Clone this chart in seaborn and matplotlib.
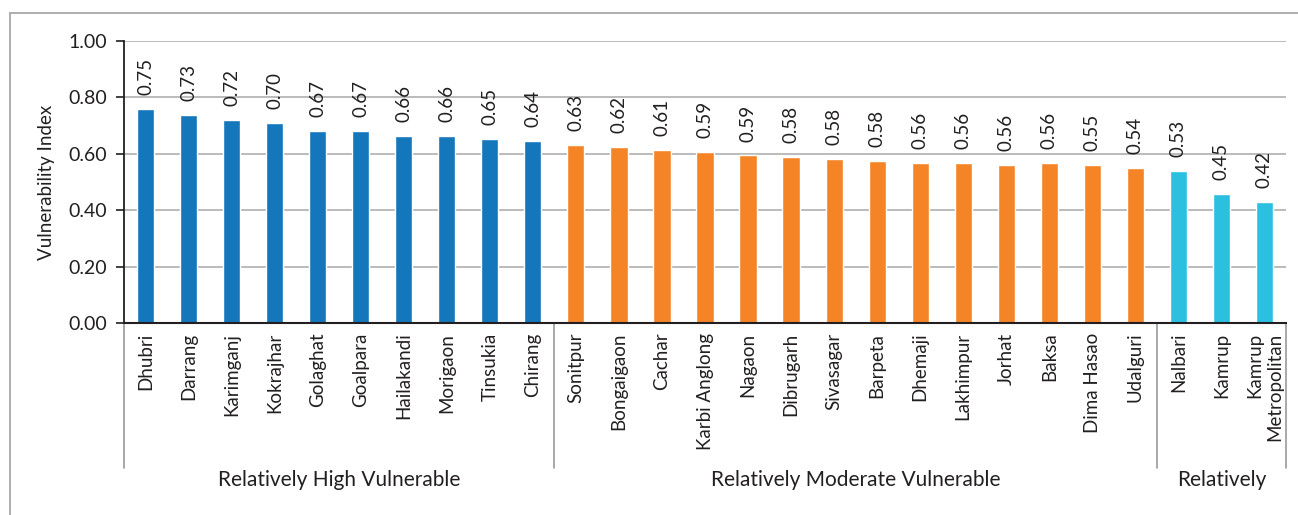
import matplotlib
matplotlib.use("Agg")
import matplotlib.pyplot as plt
import matplotlib.transforms as mtransforms
from matplotlib.lines import Line2D
import seaborn as sns
import pandas as pd

# ---------------- data ----------------
districts = ["Dhubri", "Darrang", "Karimganj", "Kokrajhar", "Golaghat", "Goalpara",
             "Hailakandi", "Morigaon", "Tinsukia", "Chirang",
             "Sonitpur", "Bongaigaon", "Cachar", "Karbi Anglong", "Nagaon", "Dibrugarh",
             "Sivasagar", "Barpeta", "Dhemaji", "Lakhimpur", "Jorhat", "Baksa",
             "Dima Hasao", "Udalguri",
             "Nalbari", "Kamrup", "Kamrup\nMetropolitan"]
values = [0.759, 0.738, 0.720, 0.709, 0.681, 0.681, 0.663, 0.663, 0.652, 0.645,
          0.632, 0.624, 0.614, 0.606, 0.594, 0.589, 0.581, 0.575, 0.568, 0.568,
          0.559, 0.568, 0.561, 0.550,
          0.539, 0.457, 0.429]
value_labels = ["0.75", "0.73", "0.72", "0.70", "0.67", "0.67", "0.66", "0.66", "0.65", "0.64",
                "0.63", "0.62", "0.61", "0.59", "0.59", "0.58", "0.58", "0.58", "0.56", "0.56",
                "0.56", "0.56", "0.55", "0.54",
                "0.53", "0.45", "0.42"]
groups = ["Relatively High Vulnerable"] * 10 + \
         ["Relatively Moderate Vulnerable"] * 14 + \
         ["Relatively"] * 3
group_names = ["Relatively High Vulnerable", "Relatively Moderate Vulnerable", "Relatively"]
group_colors = ["#1476bb", "#f58426", "#2cc0e0"]
y_ticks = [0.0, 0.2, 0.4, 0.6, 0.8, 1.0]

df = pd.DataFrame({"district": districts, "value": values, "group": groups})

# ---------------- style ----------------
sns.set_theme(style="white")
plt.rcParams["font.family"] = ["Lato", "DejaVu Sans"]

W, H = 1298, 515
fig = plt.figure(figsize=(W / 100, H / 100), dpi=100)
ax = fig.add_axes([124 / W, 1 - 323 / H, (1286 - 124) / W, (323 - 41) / H])

sns.barplot(data=df, x="district", y="value", hue="group",
            palette=dict(zip(group_names, group_colors)),
            hue_order=group_names, order=districts,
            dodge=False, width=0.4, legend=False, ax=ax, saturation=1)

ax.set_xlim(-0.5, len(districts) - 0.5)
ax.set_ylim(0, 1.0)
ax.set_yticks(y_ticks)
ax.set_yticklabels([f"{t:.2f}" for t in y_ticks], fontsize=14, color="#231f20")
ax.yaxis.grid(True, color="#b5b5b5", linewidth=1.3)
ax.set_axisbelow(True)
ax.set_xlabel("")
ax.set_ylabel("Vulnerability Index", fontsize=13.5, color="#231f20", labelpad=10)

for s in ["top", "right"]:
    ax.spines[s].set_visible(False)
ax.spines["left"].set_color("#231f20")
ax.spines["bottom"].set_color("#231f20")
ax.spines["left"].set_linewidth(1.3)
ax.spines["bottom"].set_linewidth(1.5)

ax.tick_params(axis="y", which="major", direction="out", length=6, width=1.2,
               color="#231f20", left=True, pad=6)
ax.tick_params(axis="x", length=0, pad=7)
ax.set_xticks(range(len(districts)))
ax.set_xticklabels(districts, rotation=90, fontsize=13.5, color="#231f20",
                   ha="center", va="top")
for lbl in ax.get_xticklabels():
    lbl.set_multialignment("right")

# value labels
for i, (v, t) in enumerate(zip(values, value_labels)):
    ax.annotate(t, (i, v), xytext=(0, 10), textcoords="offset points",
                rotation=90, ha="center", va="bottom", fontsize=13.5, color="#231f20")

# group separators and labels below the axis
trans = mtransforms.blended_transform_factory(ax.transData, ax.transAxes)
bounds = [-0.5]
for g in group_names:
    bounds.append(bounds[-1] + groups.count(g))
for b in bounds:
    ax.add_line(Line2D([b, b], [0, -0.515], transform=trans, color="#9a9a9a",
                       linewidth=1.2, clip_on=False))
for g, a, b in zip(group_names, bounds[:-1], bounds[1:]):
    ax.text((a + b) / 2, -0.557, g, transform=trans, ha="center", va="center",
            fontsize=15, color="#231f20")

# outer frame (partially cropped)
fig.add_artist(Line2D([10 / W, 10 / W], [0, 1 - 13 / H], color="#a8a8a8", linewidth=1.3))
fig.add_artist(Line2D([10 / W, 1], [1 - 13 / H, 1 - 13 / H], color="#a8a8a8", linewidth=1.3))

fig.savefig("out.png", dpi=100, facecolor="white")
